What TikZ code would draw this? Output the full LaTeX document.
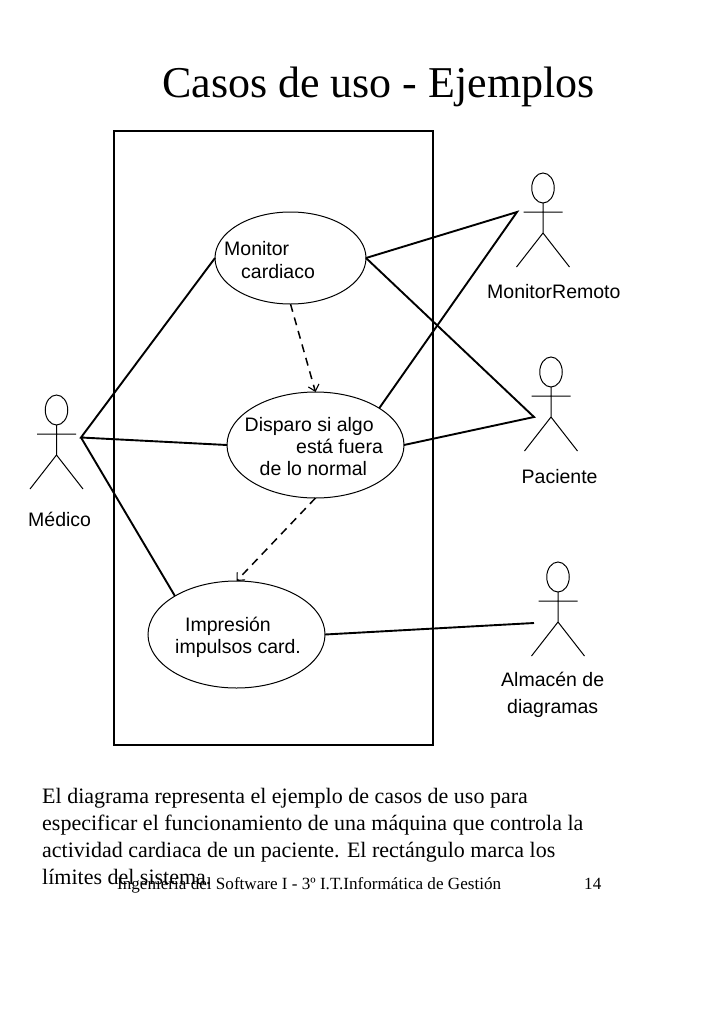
\documentclass[tikz,border=0pt]{standalone}
\usepackage{fontspec}
\setmainfont{Liberation Serif}
\newfontfamily\diagfont{Liberation Sans}
\usetikzlibrary{shapes.geometric,arrows.meta}
\tikzset{
  lbl/.style={anchor=base west,inner sep=0pt,font=\diagfont\fontsize{19.5}{23}\selectfont},
  body/.style={anchor=base west,inner sep=0pt,font=\fontsize{22}{26}\selectfont},
  foot/.style={anchor=base west,inner sep=0pt,font=\fontsize{17.1}{21}\selectfont},
  usecase/.style={draw,ellipse,inner sep=0pt,outer sep=0pt,line width=1pt},
  head/.style={draw,ellipse,inner sep=0pt,minimum width=22.5pt,minimum height=30pt,line width=1pt},
  limb/.style={line width=1pt},
  assoc/.style={line width=1.9pt},
  incl/.style={line width=1.5pt,dash pattern=on 8pt off 6pt,-{Straight Barb[length=6pt,width=11pt,line width=1.1pt]}},
  actor/.pic={
    \node[head] at (0,-24) {};
    \draw[limb] (0,-9) -- (0,21) (-19.5,0) -- (19.5,0) (0,21) -- (-26.5,55) (0,21) -- (26.5,55);
  }
}
\begin{document}
\begin{tikzpicture}[x=1pt,y=-1pt]
\useasboundingbox (0,0) rectangle (728,1031);
\fill[white] (0,0) rectangle (728,1031);
\node[anchor=base west,inner sep=0pt,font=\fontsize{44}{50}\selectfont] (title) at (162,97) {Casos de uso - Ejemplos};
\node[draw,line width=2pt,outer sep=0pt,minimum width=319pt,minimum height=614.3pt,inner sep=0pt,anchor=north west] (system) at (114.3,130.7) {};
% use cases
\node[usecase,minimum width=151pt,minimum height=92pt] (monitor) at (290.5,258) {};
\node[usecase,minimum width=177pt,minimum height=106pt] (disparo) at (315.5,445) {};
\node[usecase,minimum width=177pt,minimum height=107pt] (impresion) at (236.5,634.5) {};
\node[lbl] (t1) at (224,255) {Monitor};
\node[lbl] (t2) at (241,278) {cardiaco};
\node[lbl] (t3) at (244.5,431) {Disparo si algo};
\node[lbl] (t4) at (296,453) {está fuera};
\node[lbl] (t5) at (259.5,475) {de lo normal};
\node[lbl] (t6) at (185,631) {Impresión};
\node[lbl] (t7) at (175,653) {impulsos card.};
% actors
\pic at (56.5,434) {actor};
\pic at (543,212) {actor};
\pic at (551,396) {actor};
\pic at (558,601) {actor};
\node[lbl] (a1) at (28,526) {Médico};
\node[lbl] (a2) at (487,298) {MonitorRemoto};
\node[lbl] (a3) at (521.5,483) {Paciente};
\node[lbl] (a4) at (501,686) {Almacén de};
\node[lbl] (a5) at (507,713) {diagramas};
\coordinate (medico) at (81,437.5);
\coordinate (remoto) at (517,212);
\coordinate (paciente) at (534,417);
\coordinate (almacen) at (534,623);
% associations
\draw[assoc] (monitor.west) -- (medico) -- (disparo.west);
\draw[assoc] (medico) -- (impresion.148.8);
\draw[assoc] (monitor.east) -- (remoto) -- (disparo.30.6);
\draw[assoc] (monitor.east) -- (paciente) -- (disparo.east);
\draw[assoc] (impresion.east) -- (almacen);
\draw[incl] (monitor.south) -- (disparo.north);
\draw[incl] (disparo.south) -- (impresion.north);
% text
\node[body] (b1) at (42,803) {El diagrama representa el ejemplo de casos de uso para};
\node[body] (b2) at (42,830) {especificar el funcionamiento de una máquina que controla la};
\node[body] (b3) at (42,857) {actividad cardiaca de un paciente. El rectángulo marca los};
\node[body] (b4) at (42,884) {límites del sistema.};
\node[foot] (f1) at (117,889.5) {Ingeniería del Software I - 3º I.T.Informática de Gestión};
\node[foot] (f2) at (584,889.5) {14};
\end{tikzpicture}
\end{document}
